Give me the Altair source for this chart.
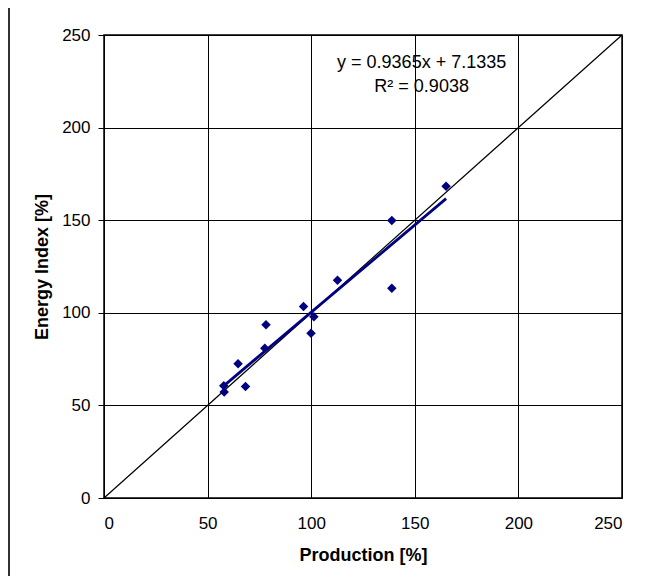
import altair as alt
import pandas as pd

# Scatter data
production = [165.1, 138.9, 138.9, 112.7, 96.3, 101.3, 99.9, 78.2, 77.6, 64.7, 68.3, 57.8, 58.0]
energy_index = [168.3, 149.9, 113.3, 117.6, 103.4, 97.9, 88.9, 93.6, 80.8, 72.5, 60.2, 60.6, 57.2]

# 1:1 reference line
diag_vals = [0, 250]

# Trendline annotation
ann_text = ["y = 0.9365x + 7.1335", "R² = 0.9038"]
ann_x = [153.3, 153.3]
ann_y = [235.0, 222.0]

FONT = "Liberation Sans"
NAVY = "#000080"

pts = pd.DataFrame({"Production": production, "Energy": energy_index})
diag = pd.DataFrame({"Production": diag_vals, "Energy": diag_vals})
ann = pd.DataFrame({"t": ann_text, "Production": ann_x, "Energy": ann_y})

xscale = alt.Scale(domain=[0, 250], nice=False, zero=True)
yscale = alt.Scale(domain=[0, 250], nice=False, zero=True)

xaxis = alt.Axis(
    title="Production [%]", values=[0, 50, 100, 150, 200, 250],
    grid=True, gridColor="#000000", gridWidth=1, gridOpacity=1,
    ticks=False, domain=False, labelPadding=17,
    labelFont=FONT, labelFontSize=17, labelColor="#000000",
    titleFont=FONT, titleFontSize=18, titleFontWeight="bold", titleColor="#000000",
    titlePadding=15,
)
yaxis = alt.Axis(
    title="Energy Index [%]", values=[0, 50, 100, 150, 200, 250],
    grid=True, gridColor="#000000", gridWidth=1, gridOpacity=1,
    ticks=True, tickSize=6, tickColor="#000000", domain=False, labelPadding=8,
    labelFont=FONT, labelFontSize=17, labelColor="#000000",
    titleFont=FONT, titleFontSize=18, titleFontWeight="bold", titleColor="#000000",
    titlePadding=10,
)

base_x = alt.X("Production:Q", scale=xscale, axis=xaxis)
base_y = alt.Y("Energy:Q", scale=yscale, axis=yaxis)

diag_line = alt.Chart(diag).mark_line(color="#000000", strokeWidth=1.2).encode(
    x=base_x, y=base_y
)

trend = alt.Chart(pts).transform_regression(
    "Production", "Energy", method="linear"
).mark_line(color=NAVY, strokeWidth=2.8).encode(
    x=alt.X("Production:Q", scale=xscale, axis=xaxis),
    y=alt.Y("Energy:Q", scale=yscale, axis=yaxis),
)

points = alt.Chart(pts).mark_point(
    shape="diamond", filled=True, color=NAVY, size=90, opacity=1
).encode(x=base_x, y=base_y)

labels = alt.Chart(ann).mark_text(
    font=FONT, fontSize=18, color="#000000", align="center", baseline="middle"
).encode(
    x=alt.X("Production:Q", scale=xscale, axis=xaxis),
    y=alt.Y("Energy:Q", scale=yscale, axis=yaxis),
    text="t:N",
)

frame_left = alt.Chart(pts).mark_rule(color="#333333", strokeWidth=1).encode(
    x=alt.value(-95), y=alt.value(-27), y2=alt.value(541)
)

chart = alt.layer(frame_left, diag_line, trend, points, labels).properties(
    width=518,
    height=463,
    padding={"left": 96, "top": 27, "right": 23, "bottom": 78},
    autosize=alt.AutoSizeParams(type="none"),
    background="#ffffff",
).configure_view(stroke="#000000", strokeWidth=1.5)

chart.save("out.html", embed_options={"renderer": "svg", "actions": False})
